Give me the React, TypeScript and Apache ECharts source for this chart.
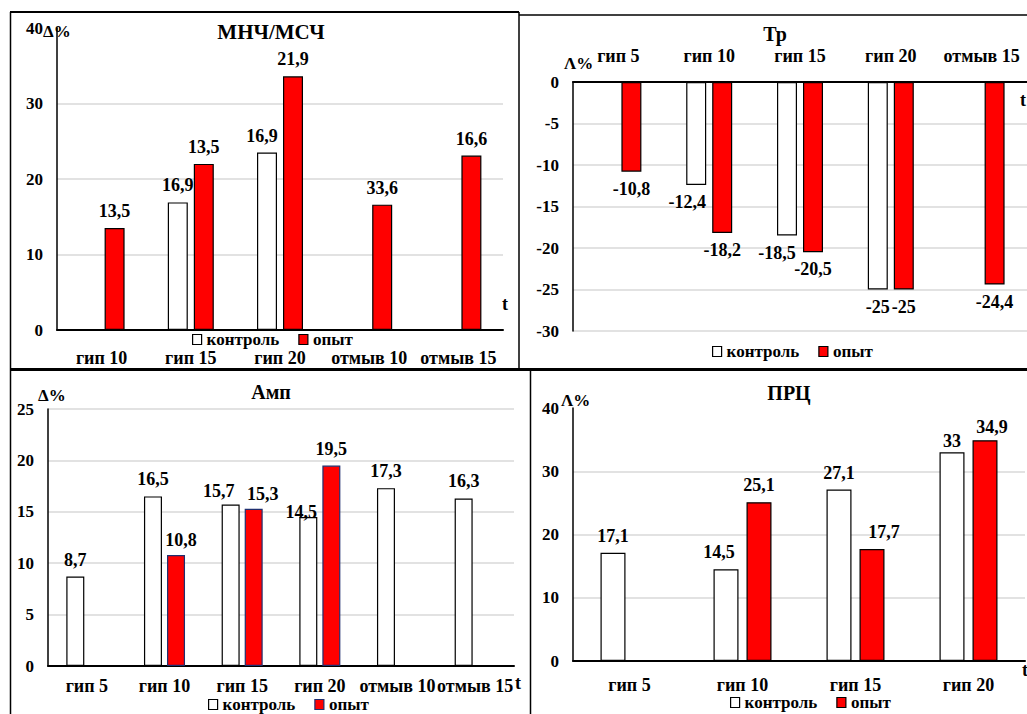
import React, { useEffect, useRef } from 'react';
import * as echarts from 'echarts';

const FONT = 'serif';

// Panel 1 — МНЧ/МСЧ
const cats1 = ['гип 10', 'гип 15', 'гип 20', 'отмыв 10', 'отмыв 15'];
const ctrl1: (number | null)[] = [null, 16.9, 23.5, null, null];
const exp1: (number | null)[] = [13.5, 22.0, 33.6, 16.6, 23.1];
const ctrl1Labels = ['', '16,9', '16,9', '', ''];
const exp1Labels = ['13,5', '13,5', '21,9', '33,6', '16,6'];

// Panel 2 — Тр
const cats2 = ['гип 5', 'гип 10', 'гип 15', 'гип 20', 'отмыв 15'];
const ctrl2: (number | null)[] = [null, -12.4, -18.5, -25, null];
const exp2: (number | null)[] = [-10.8, -18.2, -20.5, -25, -24.4];

// Panel 3 — Амп
const cats3 = ['гип 5', 'гип 10', 'гип 15', 'гип 20', 'отмыв 10', 'отмыв 15'];
const ctrl3: (number | null)[] = [8.7, 16.5, 15.7, 14.5, 17.3, 16.3];
const exp3: (number | null)[] = [null, 10.8, 15.3, 19.5, null, null];

// Panel 4 — ПРЦ
const cats4 = ['гип 5', 'гип 10', 'гип 15', 'гип 20'];
const ctrl4: (number | null)[] = [17.1, 14.5, 27.1, 33];
const exp4: (number | null)[] = [null, 25.1, 17.7, 34.9];

const SERIES_NAMES = ['контроль', 'опыт'];

const fmt = (v: number) => String(v).replace('.', ',');

function buildBar(
  name: string,
  data: (number | null)[],
  idx: number,
  color: string,
  borderColor: string,
  barWidth: number,
  barGap: string,
  position: string,
  nudges: Record<number, [number, number]>,
  labels?: string[]
) {
  return {
    type: 'bar',
    name,
    xAxisIndex: idx,
    yAxisIndex: idx,
    barWidth,
    barGap,
    data: data.map((v, i) =>
      v == null
        ? '-'
        : nudges[i]
        ? { value: v, label: { offset: nudges[i] } }
        : { value: v }
    ),
    itemStyle: { color, borderColor, borderWidth: 1.2 },
    label: {
      show: true,
      position,
      distance: 8,
      color: '#000',
      fontFamily: FONT,
      fontWeight: 'bold',
      fontSize: 18,
      formatter: (p: any) => (labels ? labels[p.dataIndex] : fmt(p.value)),
    },
  };
}

const axisLabelStyle = { color: '#000', fontFamily: FONT, fontWeight: 'bold', fontSize: 18 };
const tickLabelStyle = { color: '#000', fontFamily: FONT, fontWeight: 'bold', fontSize: 17 };

function xAxis(idx: number, data: string[], margin: number, position = 'bottom') {
  return {
    type: 'category',
    gridIndex: idx,
    data,
    position,
    axisTick: { show: false },
    axisLine: { show: true, lineStyle: { color: '#000', width: 2 } },
    axisLabel: { ...axisLabelStyle, margin, interval: 0 },
  };
}

function yAxis(idx: number, min: number, max: number, interval: number, showMax = true) {
  return {
    type: 'value',
    gridIndex: idx,
    min,
    max,
    interval,
    axisLine: { show: true, lineStyle: { color: '#000', width: 1.5 } },
    axisTick: { show: false },
    axisLabel: { ...tickLabelStyle, margin: 14 },
    splitLine: {
      show: true,
      showMaxLine: showMax,
      lineStyle: { color: '#d9d9d9', width: 1.5 },
    },
  };
}

function legend(left: number, top: number, expBorder: string) {
  return {
    left,
    top,
    padding: 0,
    itemGap: 19,
    itemWidth: 9,
    itemHeight: 10,
    icon: 'rect',
    textStyle: { color: '#000', fontFamily: FONT, fontWeight: 'bold', fontSize: 17 },
    data: [
      { name: SERIES_NAMES[0], itemStyle: { color: '#fff', borderColor: '#000', borderWidth: 1.2 } },
      { name: SERIES_NAMES[1], itemStyle: { color: '#ff0000', borderColor: expBorder, borderWidth: 1.2 } },
    ],
  };
}

function txt(x: number, y: number, text: string, size: number, weight = 'bold', align = 'center') {
  return {
    type: 'text',
    x,
    y,
    z: 10,
    style: {
      text,
      fill: '#000',
      fontFamily: FONT,
      fontSize: size,
      fontWeight: weight,
      textAlign: align,
      align,
      textVerticalAlign: 'middle',
      verticalAlign: 'middle',
    },
  };
}

function line(x1: number, y1: number, x2: number, y2: number, w: number) {
  return {
    type: 'line',
    z: 10,
    shape: { x1, y1, x2, y2 },
    style: { stroke: '#000', lineWidth: w },
  };
}

export default function App() {
  const ref = useRef<HTMLDivElement>(null);

  useEffect(() => {
    if (!ref.current) return;
    const chart = echarts.init(ref.current, undefined, { renderer: 'svg' });

    const option: any = {
      animation: false,
      backgroundColor: '#fff',
      textStyle: { fontFamily: FONT },
      grid: [
        { left: 57, top: 28, width: 446, height: 302 },
        { left: 573, top: 82, width: 455, height: 249 },
        { left: 48, top: 409, width: 466, height: 257 },
        { left: 573, top: 408, width: 452, height: 253 },
      ],
      xAxis: [
        xAxis(0, cats1, 19),
        xAxis(1, cats2, 17, 'top'),
        xAxis(2, cats3, 11),
        xAxis(3, cats4, 15),
      ],
      yAxis: [
        yAxis(0, 0, 40, 10, false),
        yAxis(1, -30, 0, 5),
        yAxis(2, 0, 25, 5),
        yAxis(3, 0, 40, 10, false),
      ],
      legend: [
        legend(192, 331, '#000'),
        legend(712, 343, '#000'),
        legend(208, 696, '#1f2f6f'),
        legend(730, 694, '#000'),
      ],
      series: [
        buildBar(SERIES_NAMES[0], ctrl1, 0, '#fff', '#000', 20, '30%', 'top', { 2: [-5, 0] }, ctrl1Labels),
        buildBar(SERIES_NAMES[1], exp1, 0, '#ff0000', '#000', 20, '30%', 'top', {}, exp1Labels),
        buildBar(SERIES_NAMES[0], ctrl2, 1, '#fff', '#000', 20, '30%', 'bottom', { 1: [-9, 0], 2: [-10, 0] }),
        buildBar(SERIES_NAMES[1], exp2, 1, '#ff0000', '#000', 20, '30%', 'bottom', {}),
        buildBar(SERIES_NAMES[0], ctrl3, 2, '#fff', '#000', 18, '28%', 'top', { 2: [-12, 3], 3: [-7, 12] }),
        buildBar(SERIES_NAMES[1], exp3, 2, '#ff0000', '#1f2f6f', 18, '28%', 'top', { 1: [5, 2], 2: [9, 2] }),
        buildBar(SERIES_NAMES[0], ctrl4, 3, '#fff', '#000', 25, '32%', 'top', { 1: [-7, 0], 3: [0, 6] }),
        buildBar(SERIES_NAMES[1], exp4, 3, '#ff0000', '#000', 25, '32%', 'top', { 2: [12, 0], 3: [7, 4] }),
      ],
      graphic: [
        line(10, 12, 519, 12, 2),
        line(10.5, 12, 10.5, 714, 1.5),
        line(519, 12, 519, 369, 1.5),
        line(519, 15, 1027, 15, 1.5),
        line(10, 369.5, 1027, 369.5, 3),
        line(530.5, 370, 530.5, 714, 1.5),
        txt(271, 32, 'МНЧ/МСЧ', 21),
        txt(775, 34, 'Тр', 20),
        txt(271, 392, 'Амп', 20),
        txt(789, 393, 'ПРЦ', 20),
        txt(43, 31, 'Δ%', 17, 'bold', 'left'),
        txt(564, 63, 'Λ%', 17, 'bold', 'left'),
        txt(38, 395, 'Δ%', 17, 'bold', 'left'),
        txt(561, 400, 'Λ%', 17, 'bold', 'left'),
        txt(505, 304, 't', 18, 'bold', 'center'),
        txt(1023, 100, 't', 18, 'bold', 'center'),
        txt(518, 683, 't', 18, 'bold', 'center'),
        txt(1025, 670, 't', 18, 'bold', 'center'),
      ],
    };

    chart.setOption(option);
    return () => chart.dispose();
  }, []);

  return (
    <div
      ref={ref}
      style={{ position: 'fixed', left: 0, top: 0, width: 1027, height: 714, background: '#fff' }}
    />
  );
}
